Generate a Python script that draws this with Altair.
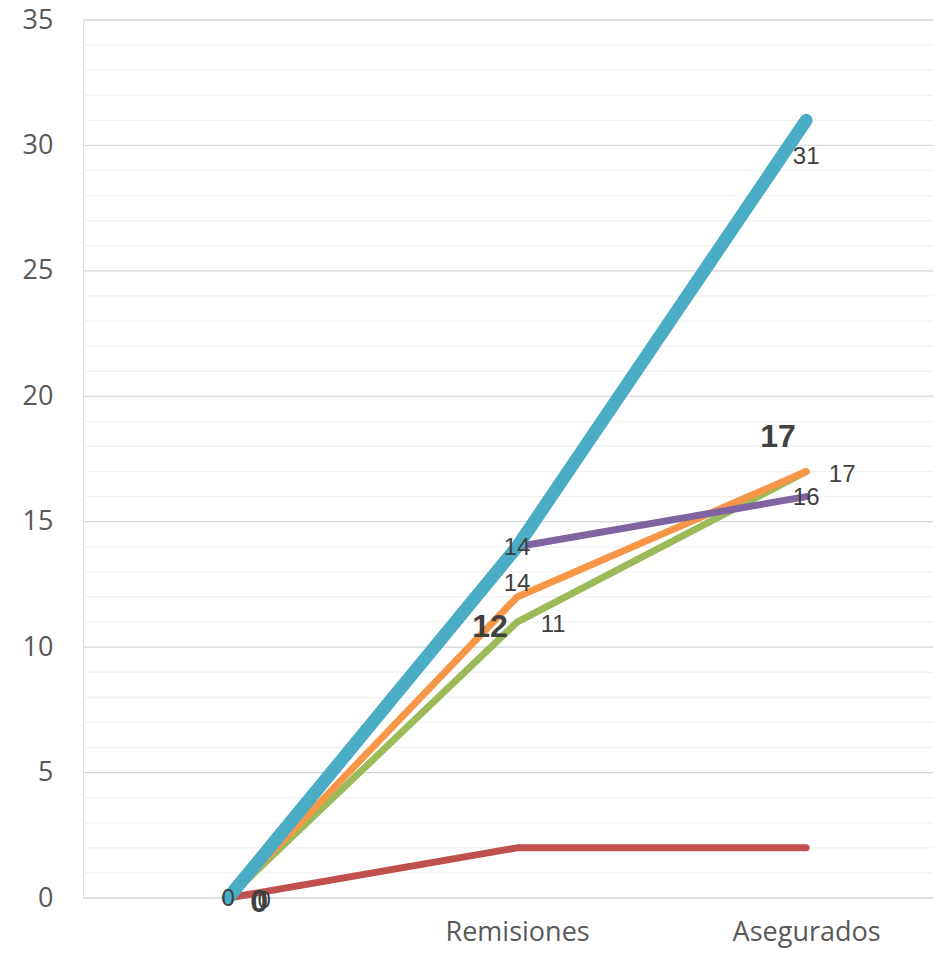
import altair as alt
import pandas as pd

categories = ["", "Remisiones", "Asegurados"]
series_names = ["Rojo", "Verde", "Naranja", "Morado", "Azul"]
red = [0, 2, 2]
green = [0, 11, 17]
orange = [0, 12, 17]
purple = [0, 14, 16]
blue = [0, 14, 31]
colors = ["#C0504D", "#9BBB59", "#F79646", "#8064A2", "#4BACC6"]
y_major = [0, 5, 10, 15, 20, 25, 30, 35]
y_minor = list(range(0, 36))

vals = [red, green, orange, purple, blue]
rows = []
for o, (name, v) in enumerate(zip(series_names, vals)):
    for i, val in enumerate(v):
        rows.append({"serie": name, "i": i, "valor": val, "orden": o})
df = pd.DataFrame(rows)

W, H = 850, 878
xscale = alt.Scale(domain=[-0.502, 2.439], nice=False, zero=False)
yscale = alt.Scale(domain=[0, 35], nice=False)
cscale = alt.Scale(domain=series_names, range=colors)

label_expr = ("datum.value == 1 ? '" + categories[1] + "' : datum.value == 2 ? '"
              + categories[2] + "' : ''")

yaxis = alt.Axis(values=y_major, title=None, domain=False, ticks=False, grid=False,
                 labelFontSize=27, labelColor="#595959", labelFont="Open Sans",
                 labelPadding=30)
xaxis = alt.Axis(values=[0, 1, 2], labelExpr=label_expr, title=None, domain=False,
                 ticks=False, grid=False, labelFontSize=27, labelColor="#595959",
                 labelFont="Open Sans", labelPadding=42, labelBaseline="alphabetic")

X = lambda: alt.X("i:Q", scale=xscale, axis=xaxis)
Y = lambda f: alt.Y(f, scale=yscale, axis=yaxis)

grid_minor = alt.Chart(pd.DataFrame({"v": y_minor})).mark_rule(
    color="#F2F2F2", strokeWidth=1.3
).encode(y=Y("v:Q"))

grid_major = alt.Chart(pd.DataFrame({"v": y_major})).mark_rule(
    color="#D9D9D9", strokeWidth=1.3
).encode(y=Y("v:Q"))

def line(name, width):
    return alt.Chart(df[df.serie == name]).mark_line(
        strokeWidth=width, strokeCap="round", strokeJoin="round"
    ).encode(
        x=X(),
        y=Y("valor:Q"),
        color=alt.Color("serie:N", scale=cscale, legend=None),
    )

lines = [line("Rojo", 7), line("Verde", 7), line("Naranja", 7), line("Morado", 7), line("Azul", 13)]

def labels(name, idx, dx=0, dy=0, size=24, bold=False):
    d = df[(df.serie == name) & (df.i.isin(idx))]
    return alt.Chart(d).mark_text(
        dx=dx, dy=dy, fontSize=size, fontWeight="bold" if bold else "normal",
        color="#404040", font="Liberation Sans", baseline="middle", align="center"
    ).encode(
        x=X(),
        y=Y("valor:Q"),
        text=alt.Text("valor:Q"),
    )

texts = [
    labels("Morado", [0, 1, 2], dy=1),
    labels("Azul", [1, 2], dy=37),
    labels("Verde", [0, 1, 2], dx=36, dy=3),
    labels("Naranja", [0], dx=31, dy=4, size=32, bold=True),
    labels("Naranja", [1], dx=-27, dy=30, size=32, bold=True),
    labels("Naranja", [2], dx=-28, dy=-35, size=32, bold=True),
]

chart = alt.layer(grid_minor, grid_major, *lines, *texts).properties(
    width=W, height=H,
    padding={"left": 75, "top": 12, "right": 0, "bottom": 50},
    autosize=alt.AutoSizeParams(type="none"),
).configure_view(strokeWidth=0, stroke="transparent").configure(background="white")

chart.save("out.html", embed_options={"renderer": "svg", "actions": False})
